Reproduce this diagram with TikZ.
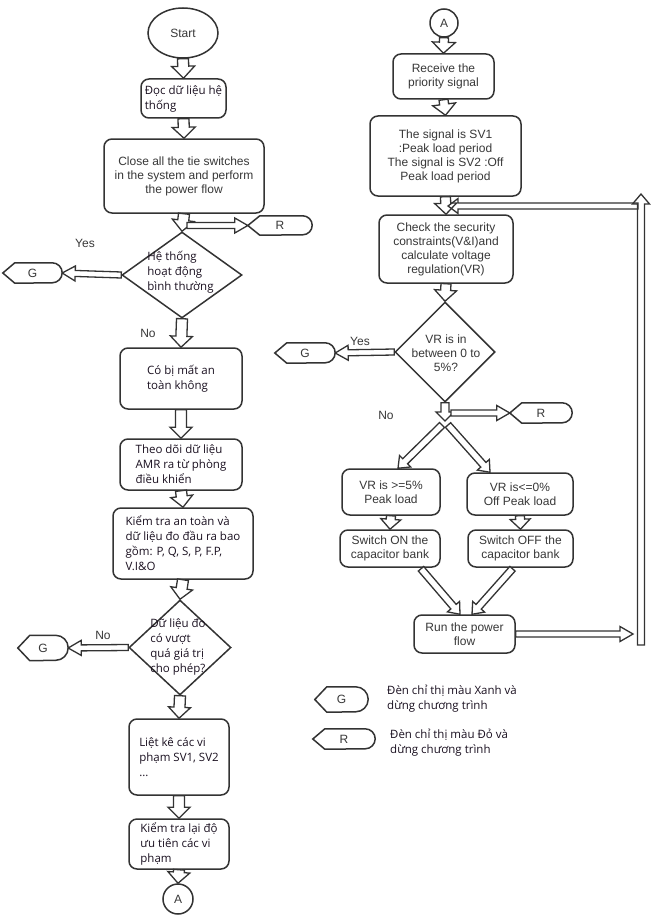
\documentclass[tikz,border=0pt]{standalone}
\usepackage{fontspec}
\setmainfont{Liberation Sans}
\newfontfamily\vnfont{Open Sans}
\usetikzlibrary{shapes.geometric,calc}
\definecolor{ln}{HTML}{333333}
\definecolor{tx}{HTML}{383838}
\definecolor{vt}{HTML}{1A1020}
\tikzset{
  box/.style={draw=ln, line width=1.5pt, rounded corners=8pt, inner sep=0pt, fill=white,
    text=tx, font=\fontsize{12}{14}\selectfont, align=center},
  vbox/.style={box, text=vt, font=\vnfont\fontsize{11.5}{15}\selectfont, align=left},
  dia/.style={draw=ln, line width=1.5pt, diamond, inner sep=0pt, fill=white},
  etext/.style={text=tx, font=\fontsize{12}{14}\selectfont, align=center, inner sep=0pt},
  vtext/.style={text=vt, font=\vnfont\fontsize{11.5}{15}\selectfont, align=left, inner sep=0pt},
  lbl/.style={text=tx, font=\fontsize{12}{14}\selectfont, inner sep=0pt},
  harr/.style={draw=ln, line width=1.3pt, fill=white, line join=miter},
  termn/.style={inner sep=0pt, text=tx, font=\fontsize{12}{14}\selectfont},
  termline/.style={draw=ln, line width=1.5pt},
  conn/.style={draw=ln, line width=1.5pt, circle, inner sep=0pt, fill=white,
    text=tx, font=\fontsize{12}{14}\selectfont}
}
% hollow block arrow: [opts]{from}{to}{shaft half}{head half}{head length}
\newcommand\harrow[6][]{%
  \coordinate (ha) at (#2);
  \coordinate (hz) at (#3);
  \coordinate (hb) at ($(hz)!#6pt!(ha)$);
  \draw[harr,#1] ($(ha)!#4pt!90:(hz)$) -- ($(hb)!#4pt!-90:(ha)$) -- ($(hb)!#5pt!-90:(ha)$)
    -- (hz) -- ($(hb)!#5pt!90:(ha)$) -- ($(hb)!#4pt!90:(ha)$) -- ($(ha)!#4pt!-90:(hz)$) -- cycle;}
% terminator: {name}{(pos)}{width}{half height}{label}
\newcommand\term[5]{%
  \node[termn, minimum width=#3, minimum height=2*#4] (#1) at #2 {#5};
  \draw[termline] (#1.west) -- ([xshift=12pt]#1.north west) -- ([xshift=-#4pt]#1.north east)
    arc[start angle=90,end angle=-90,radius=#4pt] -- ([xshift=12pt]#1.south west) -- cycle;}
\begin{document}
\begin{tikzpicture}[x=1pt,y=-1pt]
\useasboundingbox (0,0) rectangle (656,923);
\fill[white] (0,0) rectangle (656,923);

% ---------- left column ----------
\node[draw=ln, line width=1.5pt, ellipse, minimum width=70, minimum height=50, inner sep=0pt,
  text=tx, font=\fontsize{12}{14}\selectfont] (start) at (183,33) {Start};
\node[vbox, minimum width=85, minimum height=39] (b1) at (183.5,98.5) {Đọc dữ liệu hệ\\thống};
\node[box, minimum width=160, minimum height=74] (b2) at (184,176)
  {Close all the tie switches\\in the system and perform\\the power flow};
\node[dia, minimum width=120, minimum height=86] (d1) at (182,275) {};
\node[vtext] (d1t) at (180.5,272) {Hệ thống\\hoạt động\\bình thường};
\node[vbox, minimum width=122, minimum height=61] (b3) at (181,378.5) {Có bị mất an\\toàn không};
\node[vbox, minimum width=122, minimum height=51] (b4) at (181,464.5)
  {Theo dõi dữ liệu\\AMR ra từ phòng\\điều khiển};
\node[vbox, minimum width=140, minimum height=71] (b5) at (183,543.5)
  {Kiểm tra an toàn và\\dữ liệu đo đầu ra bao\\gồm: P, Q, S, P, F.P,\\V.I\&O};
\node[dia, minimum width=102, minimum height=95] (d2) at (180,647.5) {};
\node[vtext] (d2t) at (178,647) {Dữ liệu đo\\có vượt\\quá giá trị\\cho phép?};
\node[vbox, minimum width=100, minimum height=76] (b6) at (179,757) {Liệt kê các vi\\phạm SV1, SV2\\...};
\node[vbox, minimum width=100, minimum height=50] (b7) at (179,844) {Kiểm tra lại độ\\ưu tiên các vi\\phạm};
\node[conn, minimum size=30] (A1) at (178,899) {A};

\term{R1}{(280,225.5)}{64}{9.5}{R}
\term{G1}{(32.5,273)}{59}{10}{G}
\term{G2}{(43,648)}{50}{12.5}{G}

\node[lbl] (yes1) at (85,243) {Yes};
\node[lbl] (no1) at (148,333) {No};
\node[lbl] (no2) at (103,635) {No};

\harrow{start.south}{b1.north}{5.5}{11.5}{12}
\harrow{b1.south}{b2.north}{5.5}{11.5}{11}
\harrow{b2.south}{d1.north}{5.5}{11}{11}
\harrow{d1.south}{b3.north}{5.5}{11}{11}
\harrow{b3.south}{b4.north}{5.5}{11}{11}
\harrow{b4.south}{b5.north}{5.5}{11}{11}
\harrow{b5.south}{d2.north}{5.5}{11}{11}
\harrow{d2.south}{b6.north}{5.5}{11}{11}
\harrow{b6.south}{b7.north}{5.5}{11}{11}
\harrow{b7.south}{A1.north}{5.5}{11}{11}
\coordinate (j1) at (187,225.5);
\harrow{j1}{R1.west}{3}{7.5}{13}
\harrow{d1.west}{G1.east}{3}{7.5}{13}
\harrow{d2.west}{G2.east}{3}{7.5}{13}

% ---------- right column ----------
\node[conn, minimum size=28] (A2) at (444,23) {A};
\node[box, minimum width=101, minimum height=45] (r1) at (443.5,76.5) {Receive the\\priority signal};
\node[box, minimum width=151, minimum height=80] (r2) at (445.5,156)
  {The signal is SV1\\:Peak load period\\The signal is SV2 :Off\\Peak load period};
\node[box, minimum width=134, minimum height=68] (r3) at (446,249)
  {Check the security\\constraints(V\&I)and\\calculate voltage\\regulation(VR)};
\node[dia, minimum width=100, minimum height=100] (d3) at (445,352) {};
\node[etext] (d3t) at (446,353) {VR is in\\between 0 to\\5\%?};
\node[box, minimum width=98, minimum height=46] (r4) at (391,492) {VR is >=5\%\\Peak load};
\node[box, minimum width=106, minimum height=42] (r5) at (520,494) {VR is<=0\%\\Off Peak load};
\node[box, minimum width=100, minimum height=37] (r6) at (390,548.5) {Switch ON the\\capacitor bank};
\node[box, minimum width=105, minimum height=37] (r7) at (520.5,548.5) {Switch OFF the\\capacitor bank};
\node[box, minimum width=101, minimum height=38] (r8) at (464.5,634) {Run the power\\flow};

\term{G3}{(305,353)}{60}{10}{G}
\term{R2}{(541,413)}{62}{10}{R}

\node[lbl] (yes2) at (360,341) {Yes};
\node[lbl] (no3) at (386,415) {No};

\harrow{A2.south}{r1.north}{4.5}{11.5}{11}
\harrow{r1.south}{r2.north}{4.5}{11.5}{11}
\harrow{r2.south}{r3.north}{5}{11}{11}
\harrow{r3.south}{d3.north}{5}{11}{11}
\coordinate (j3) at (445,421);
\harrow{d3.south}{j3}{4}{9}{9}
\coordinate (j3r) at (451,413);
\harrow{j3r}{R2.west}{3}{7.5}{13}
\harrow{d3.west}{G3.east}{3}{7.5}{13}
\coordinate (j3a) at (442,425);
\coordinate (j3b) at (448,425);
\harrow{j3a}{$(r4.north)+(7,0)$}{3.5}{8}{10}
\harrow{j3b}{$(r5.north)+(-30,0)$}{3.5}{8}{10}
\harrow{r4.south}{r6.north}{4.5}{10}{10}
\harrow{r5.south}{r7.north}{4.5}{10}{10}
\harrow{$(r6.south)+(31,1)$}{$(r8.north)+(-4.5,0)$}{3.5}{8}{10}
\harrow{$(r7.south)+(-8,1)$}{$(r8.north)+(7.5,0)$}{3.5}{8}{10}
\coordinate (lpin) at (633,634);
\harrow{r8.east}{lpin}{3}{7.5}{13}
\coordinate (lpb) at (641,645);
\coordinate (lpt) at (641,194);
\harrow{lpb}{lpt}{3.5}{8.5}{10}
\coordinate (lpr) at (638,206);
\coordinate (lpl) at (448,206);
\harrow[fill=none]{lpr}{lpl}{3}{7.5}{10}

% ---------- legend ----------
\term{LG}{(341.5,699.5)}{53}{12.5}{G}
\term{LR}{(344,739)}{62}{10}{R}
\node[vtext, anchor=west] (lgt) at (387,699) {Đèn chỉ thị màu Xanh và\\dừng chương trình};
\node[vtext, anchor=west] (lrt) at (390,743) {Đèn chỉ thị màu Đỏ và\\dừng chương trình};
\end{tikzpicture}
\end{document}
